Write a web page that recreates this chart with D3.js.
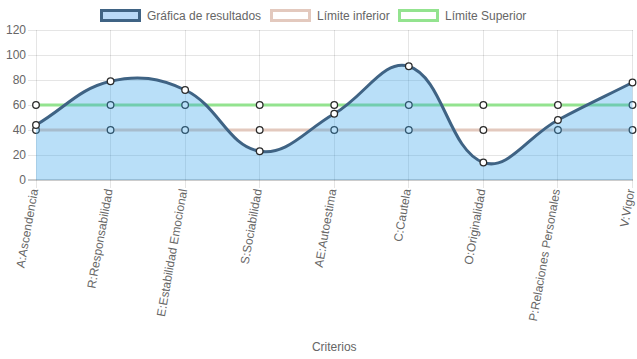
<!DOCTYPE html>
<html><head><meta charset="utf-8">
<script src="https://cdn.jsdelivr.net/npm/d3@7/dist/d3.min.js"></script>
<style>body{margin:0;background:#fff}svg{display:block}</style>
</head><body>
<svg id="c" width="637" height="359"></svg>
<script>
const categories = ["A:Ascendencia","R:Responsabilidad","E:Estabilidad Emocional","S:Sociabilidad","AE:Autoestima","C:Cautela","O:Originalidad","P:Relaciones Personales","V:Vigor"];
const resultados = [44, 79, 72, 23, 53, 91, 14, 48, 78];
const limiteInferior = [40, 40, 40, 40, 40, 40, 40, 40, 40];
const limiteSuperior = [60, 60, 60, 60, 60, 60, 60, 60, 60];
const yTicks = [0, 20, 40, 60, 80, 100, 120];
const legendLabels = ["Gráfica de resultados", "Límite inferior", "Límite Superior"];
const xTitle = "Criterios";

(function(){
const FONT = "'Helvetica Neue', Helvetica, Arial, 'Liberation Sans', sans-serif";
const svg = d3.select("#c");
const pL = 36, pR = 632.5, pT = 30, pB = 180;
const x = d3.scalePoint().domain(categories).range([pL, pR]);
const y = d3.scaleLinear().domain([0, 120]).range([pB, pT]);

const styles = [
  {fill: "rgba(54,162,235,0.35)", stroke: "#3f6384", legendFill: "#b9d9f7"},
  {fill: "none", stroke: "#e3c9be", legendFill: "#fff"},
  {fill: "none", stroke: "#93e38f", legendFill: "#fff"}
];

const g = svg.append("g");
yTicks.forEach(t => {
  g.append("line").attr("x1", pL - 8).attr("x2", pR).attr("y1", y(t)).attr("y2", y(t))
    .attr("stroke", t === 0 ? "rgba(0,0,0,0.2)" : "rgba(0,0,0,0.1)").attr("stroke-width", t === 0 ? 2 : 1)
    .attr("shape-rendering", "crispEdges");
  g.append("text").attr("x", pL - 10).attr("y", y(t)).attr("dy", "0.35em").attr("text-anchor", "end")
    .attr("font-family", FONT).attr("font-size", 12).attr("fill", "#666").text(t);
});
categories.forEach((c, i) => {
  g.append("line").attr("x1", x(c)).attr("x2", x(c)).attr("y1", pT).attr("y2", pB + 8)
    .attr("stroke", "rgba(0,0,0,0.1)").attr("shape-rendering", "crispEdges");
  g.append("text").attr("transform", `translate(${x(c) - 2},${pB + 9}) rotate(-80)`)
    .attr("text-anchor", "end").attr("dy", "0.35em")
    .attr("font-family", FONT).attr("font-size", 12).attr("fill", "#666").text(c);
});

function spline(vals, t) {
  const p = vals.map((v, i) => ({x: x(categories[i]), y: y(v)}));
  p.forEach((cur, i) => {
    const prev = p[i - 1] || cur, next = p[i + 1] || cur;
    const d01 = Math.hypot(cur.x - prev.x, cur.y - prev.y);
    const d12 = Math.hypot(next.x - cur.x, next.y - cur.y);
    let s01 = d01 / (d01 + d12), s12 = d12 / (d01 + d12);
    if (isNaN(s01)) s01 = 0; if (isNaN(s12)) s12 = 0;
    const fa = t * s01, fb = t * s12;
    cur.cp1 = {x: cur.x - fa * (next.x - prev.x), y: cur.y - fa * (next.y - prev.y)};
    cur.cp2 = {x: cur.x + fb * (next.x - prev.x), y: cur.y + fb * (next.y - prev.y)};
    cur.cp1.y = Math.max(pT, Math.min(pB, cur.cp1.y));
    cur.cp2.y = Math.max(pT, Math.min(pB, cur.cp2.y));
  });
  let d = `M${p[0].x},${p[0].y}`;
  for (let i = 1; i < p.length; i++) {
    d += `C${p[i-1].cp2.x},${p[i-1].cp2.y},${p[i].cp1.x},${p[i].cp1.y},${p[i].x},${p[i].y}`;
  }
  return d;
}

const datasets = [resultados, limiteInferior, limiteSuperior];
[2, 1, 0].forEach(k => {
  const vals = datasets[k];
  const d = spline(vals, 0.4);
  const layer = svg.append("g");
  if (k === 0) {
    layer.append("path")
      .attr("d", d + `L${x(categories[categories.length-1])},${y(0)}L${x(categories[0])},${y(0)}Z`)
      .attr("fill", styles[k].fill);
  }
  layer.append("path").attr("d", d).attr("fill", "none").attr("stroke", styles[k].stroke).attr("stroke-width", 3);
  layer.selectAll("circle").data(vals).join("circle")
    .attr("cx", (v, i) => x(categories[i])).attr("cy", v => y(v)).attr("r", 3.3)
    .attr("fill", "#fff").attr("stroke", "#2b2b2b").attr("stroke-width", 1.3);
});

const legX = [100, 270, 398];
legendLabels.forEach((l, i) => {
  svg.append("rect").attr("x", legX[i] + 1.5).attr("y", 10.5).attr("width", 38).attr("height", 10)
    .attr("fill", styles[i].legendFill).attr("stroke", styles[i].stroke).attr("stroke-width", 3);
  svg.append("text").attr("x", legX[i] + 47).attr("y", 16).attr("dy", "0.35em")
    .attr("font-family", FONT).attr("font-size", 12).attr("fill", "#666").text(l);
});

svg.append("text").attr("x", (pL + pR) / 2).attr("y", 347).attr("dy", "0.35em").attr("text-anchor", "middle")
  .attr("font-family", FONT).attr("font-size", 12).attr("fill", "#666").text(xTitle);
})();
</script>
</body></html>
